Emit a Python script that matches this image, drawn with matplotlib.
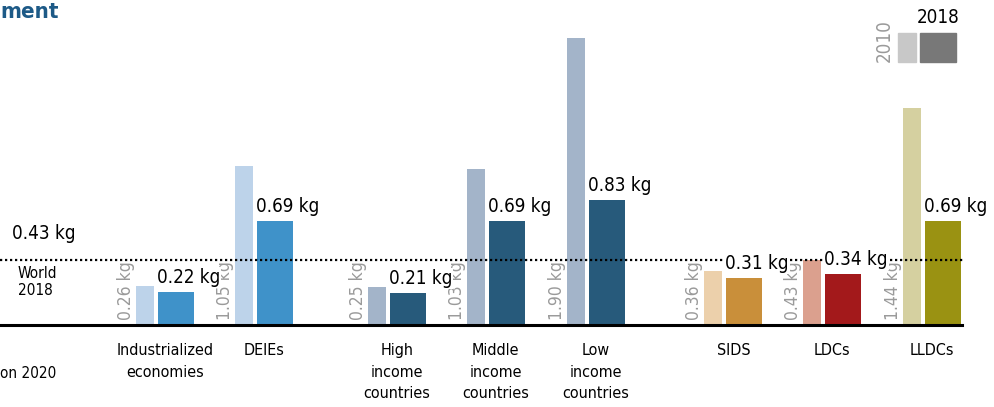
import matplotlib.pyplot as plt
import matplotlib.patches as mpatches

# dados do grafico
grupos = ["Industrialized\neconomies", "DEIEs", "High\nincome\ncountries",
          "Middle\nincome\ncountries", "Low\nincome\ncountries", "SIDS", "LDCs", "LLDCs"]
v2010 = [0.26, 1.05, 0.25, 1.03, 1.90, 0.36, 0.43, 1.44]
v2018 = [0.22, 0.69, 0.21, 0.69, 0.83, 0.31, 0.34, 0.69]
mundo_2018 = 0.43

# cores (claro = 2010, escuro = 2018)
cor2010 = ["#bdd3ea", "#bdd3ea", "#a3b4c9", "#a3b4c9", "#a3b4c9", "#ecd0ab", "#dba08e", "#d5d0a0"]
cor2018 = ["#3f92c9", "#3f92c9", "#275a7b", "#275a7b", "#275a7b", "#c98f3a", "#a3191b", "#9a9212"]

# posicoes dos grupos (com espacos entre blocos)
pos = [0, 1, 2.34, 3.34, 4.35, 5.74, 6.74, 7.75]

W, H = 994, 407
fig = plt.figure(figsize=(W / 100, H / 100), dpi=100)
ax = fig.add_axes([0, 0, 1, 1])
ax.set_xlim(-165 / 99, (W - 165) / 99)
ax.set_ylim(-82 / 151, 325 / 151)
ax.axis("off")

fonte = dict(family="DejaVu Sans", stretch="condensed")


def fx(x):
    return x / W


def fy(y):
    return 1 - y / H


w1, w2 = 18 / 99, 36 / 99
off1, off2 = -20 / 99, 11 / 99

for i in range(len(pos)):
    x1 = pos[i] + off1
    x2 = pos[i] + off2
    ax.bar(x1, v2010[i], width=w1, color=cor2010[i], zorder=2)
    ax.bar(x2, v2018[i], width=w2, color=cor2018[i], zorder=2)
    # rotulo 2010 (cinza, vertical)
    ax.text(x1 - w1 / 2 - 1 / 99, 0.03, "%.2f kg" % v2010[i], rotation=90,
            ha="right", va="bottom", color="#9a9a9a", fontsize=12.5, **fonte)
    # rotulo 2018
    ax.text(x2 - w2 / 2 - 1 / 99, v2018[i] + 5 / 151, "%.2f kg" % v2018[i],
            ha="left", va="bottom", color="black", fontsize=13.5, zorder=5,
            bbox=dict(boxstyle="square,pad=0.05", fc="white", ec="none"), **fonte)
    # nome do grupo
    ax.text(pos[i], -18 / 151, grupos[i], ha="center", va="top", fontsize=11.5,
            linespacing=1.55, **fonte)

# linha base e linha da media mundial
ax.axhline(0, xmin=0, xmax=962 / W, color="black", lw=2.2, zorder=3)
ax.axhline(mundo_2018, xmin=0, xmax=964 / W, color="black", lw=1.6,
           linestyle=(0, (1, 1.25)), zorder=3)
ax.text(-165 / 99 + 12 / 99, mundo_2018 + 17 / 151, "%.2f kg" % mundo_2018,
        ha="left", va="bottom", fontsize=13.5, **fonte)
fig.text(fx(18), fy(266), "World\n2018", ha="left", va="top", fontsize=11,
         linespacing=1.2, **fonte)

# titulo e nota cortados
fig.text(fx(0), fy(2), "ment", ha="left", va="top", fontsize=16, fontweight="bold",
         color="#1d5a87", **fonte)
fig.text(fx(0), fy(373), "on 2020", ha="left", va="center", fontsize=11, **fonte)

# legenda
fig.patches.append(mpatches.Rectangle((fx(898), fy(62)), 18 / W, 29 / H,
                                      transform=fig.transFigure, color="#c8c8c8"))
fig.patches.append(mpatches.Rectangle((fx(920), fy(62)), 36 / W, 29 / H,
                                      transform=fig.transFigure, color="#787878"))
fig.text(fx(894), fy(62), "2010", rotation=90, ha="right", va="bottom",
         color="#9a9a9a", fontsize=13.5, **fonte)
fig.text(fx(938), fy(27), "2018", ha="center", va="bottom", fontsize=13.5, **fonte)

fig.savefig("out.png", dpi=100)
